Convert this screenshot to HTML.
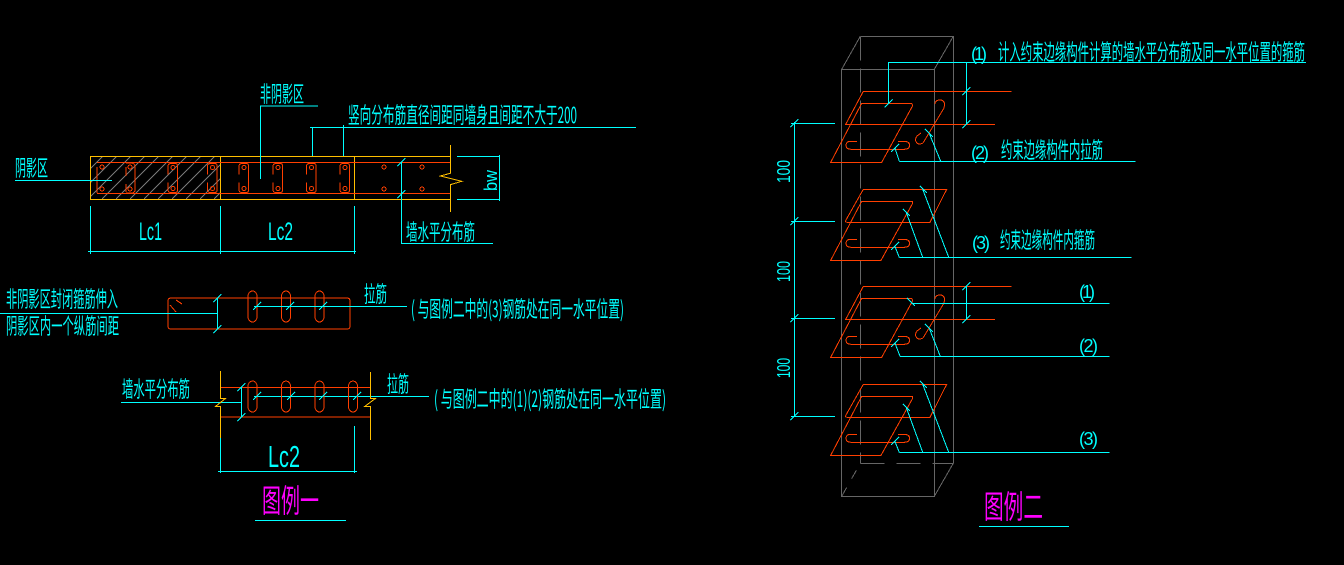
<!DOCTYPE html>
<html><head><meta charset="utf-8"><style>
html,body{margin:0;padding:0;background:#000;width:1344px;height:565px;overflow:hidden}
svg{display:block;shape-rendering:crispEdges}
text{font-family:"WenQuanYi Zen Hei","Noto Sans CJK SC",sans-serif;fill:#00ffff;font-size:22px}
.l{font-family:"Liberation Sans",sans-serif;font-weight:normal}
.c{stroke:#00ffff;fill:none;stroke-width:1}
.r{stroke:#ff3f00;fill:none;stroke-width:1}
.o{stroke:#ffbf00;fill:none;stroke-width:1}
.g{stroke:#666;fill:none;stroke-width:1}
.t{stroke:#00ffff;fill:none;stroke-width:1}
</style></head><body>
<svg width="1344" height="565" viewBox="0 0 1344 565" xmlns="http://www.w3.org/2000/svg">
<defs>
<path id="tick" class="t" d="M-4 4L4 -4"/>
<rect id="slotV" class="r" x="0" y="0" width="9" height="31" rx="4.500" ry="5"/>
<g id="stir"><path class="r" d="M0 12V4Q0 1 3 1M0 20V27Q0 30 3 30M3 1H7Q9.500 1 9.500 3V28Q9.500 30 7 30H3"/><circle class="r" cx="5" cy="5" r="2"/><circle class="r" cx="5" cy="26" r="2"/></g>
<g id="rA">
<path class="r" d="M1011.700 91.300H863.300L845.700 124.300H995"/>
<path class="r" d="M861.700 103.300H911Q912.500 103.300 912.500 106L881.700 162.300H830.700Z"/>
<path class="r" d="M857 141.300H851Q846 141.300 846 145.300Q846 149.300 851 149.300H904Q909.500 149.300 909.500 145.300Q909.500 141.300 904 141.300H898"/>
<path class="r" d="M923 143Q919 145 917 143Q914 140 917 136L921 133M923 143L944 108Q946 100 940 100Q935 100 935 104"/>
</g>
<g id="rB">
<path class="r" d="M863.300 189.300H946.700L930 222.300H847Q845 222.300 846 220Z"/>
<path class="r" d="M861.700 201.300H912.300V204L881 260.300H830.700Z"/>
<path class="r" d="M857 239.300H851Q846 239.300 846 243.300Q846 247.300 851 247.300H904Q909.500 247.300 909.500 243.300Q909.500 239.300 904 239.300H898"/>
</g>
</defs>
<rect width="1344" height="565" fill="#000"/>

<!-- hatch -->
<clipPath id="hc"><rect x="91" y="157" width="129" height="42"/></clipPath>
<g clip-path="url(#hc)">
<path stroke="#777" stroke-width="1" fill="none" d="M60 199L103 156M74 199L117 156M88 199L131 156M102 199L145 156M116 199L159 156M130 199L173 156M144 199L187 156M158 199L201 156M172 199L215 156M186 199L229 156M200 199L243 156M214 199L257 156"/>
</g>

<!-- wall elevation -->
<path class="o" d="M450.300 156.300H90.300V199.300H450.300M220.300 156.300V199.300M354.300 156.300V199.300"/>
<path class="r" d="M97 162.300H450M97 193.300H450"/>
<path class="o" d="M450.300 145V173.300L440.300 176L461.700 181.300L450.300 184.700V212"/>
<path class="r" d="M97 193V167"/>
<path class="r" d="M126 163H131Q135 163 135 167V190Q135 193 131 193H126M126 167V176M126 184V192"/>
<circle class="r" cx="102" cy="167" r="2"/><circle class="r" cx="102" cy="189" r="2"/>
<circle class="r" cx="130" cy="167" r="2"/><circle class="r" cx="130" cy="189" r="2"/>
<use href="#stir" x="168" y="162.500"/>
<use href="#stir" x="207.500" y="162.500"/>
<use href="#stir" x="239" y="162.500"/>
<use href="#stir" x="273" y="162.500"/>
<use href="#stir" x="306.500" y="162.500"/>
<use href="#stir" x="340" y="162.500"/>
<circle class="r" cx="384" cy="167" r="2"/><circle class="r" cx="384" cy="189" r="2"/><circle class="r" cx="422" cy="167" r="2"/><circle class="r" cx="422" cy="189" r="2"/>

<!-- wall leaders -->
<path class="c" d="M260.500 179V106H318"/>
<path class="c" d="M15 180.300H112"/>
<path class="c" d="M636 127.300H310M312.500 127V156M343.300 125V156"/>
<path class="c" d="M401.300 162V243.300H493"/>
<path class="c" d="M457 156.300H500M457 199.300H500M499.300 155V201"/>
<path class="c" d="M90.300 206V254M220.300 206V254M354.300 206V254M88 251.700H356"/>
<use href="#tick" x="401.300" y="162"/><use href="#tick" x="401.300" y="194"/>
<text x="260" y="102" textLength="44" lengthAdjust="spacingAndGlyphs">非阴影区</text>
<text x="15" y="176" textLength="33" lengthAdjust="spacingAndGlyphs">阴影区</text>
<text x="348" y="123" textLength="229" lengthAdjust="spacingAndGlyphs">竖向分布筋直径间距同墙身且间距不大于200</text>
<text x="406" y="240" textLength="69" lengthAdjust="spacingAndGlyphs">墙水平分布筋</text>
<text class="l" x="139" y="240" textLength="23" lengthAdjust="spacingAndGlyphs" style="font-size:25px">Lc1</text>
<text class="l" x="268" y="240" textLength="25" lengthAdjust="spacingAndGlyphs" style="font-size:25px">Lc2</text>
<text class="l" transform="translate(497 191) rotate(-90)" textLength="21" lengthAdjust="spacingAndGlyphs" style="font-size:18px">bw</text>

<!-- section 2 -->
<path class="r" d="M171 298H347Q350 298 350 301V326Q350 329 347 329H171Q168 329 168 326V301Q168 298 171 298Z"/>
<path class="r" d="M170 305L176 312M176 300L182 304"/>
<use href="#slotV" x="248" y="291"/><use href="#slotV" x="281.500" y="291"/><use href="#slotV" x="315" y="291"/>
<path class="c" d="M0 313.300H217.300V298M217.300 313V329"/>
<path class="c" d="M254 306.300H407"/>
<use href="#tick" x="217.300" y="298"/><use href="#tick" x="217.300" y="329"/>
<use href="#tick" x="257" y="306"/><use href="#tick" x="290" y="306"/><use href="#tick" x="323" y="306"/>
<text x="6" y="307" textLength="112" lengthAdjust="spacingAndGlyphs">非阴影区封闭箍筋伸入</text>
<text x="6" y="334" textLength="113" lengthAdjust="spacingAndGlyphs">阴影区内一个纵筋间距</text>
<text x="364" y="302" textLength="23" lengthAdjust="spacingAndGlyphs">拉筋</text>
<text x="411" y="317" textLength="213" lengthAdjust="spacingAndGlyphs">( 与图例二中的(3)钢筋处在同一水平位置)</text>

<!-- section 3 -->
<path class="r" d="M220 387.300H370M220 417H370"/>
<path class="c" d="M121 402.300H241.300V387M241.300 402V417"/>
<path class="c" d="M254 396.300H429"/>
<path class="c" d="M220.300 438V473M354.500 426V473M218 471.300H357"/>
<path class="o" d="M220.300 371V398.300H225.700L215.700 406.300H220.300V438"/>
<path class="o" d="M370.300 372V398.300H375.700L365 406.300H370.300V440"/>
<use href="#slotV" x="248" y="381"/><use href="#slotV" x="281.500" y="381"/><use href="#slotV" x="315" y="381"/><use href="#slotV" x="348.500" y="381"/>
<use href="#tick" x="241.300" y="387"/><use href="#tick" x="241.300" y="417"/>
<use href="#tick" x="257" y="396"/><use href="#tick" x="291" y="396"/><use href="#tick" x="323" y="396"/><use href="#tick" x="357" y="396"/>
<text x="122" y="397" textLength="68" lengthAdjust="spacingAndGlyphs">墙水平分布筋</text>
<text x="387" y="392" textLength="22" lengthAdjust="spacingAndGlyphs">拉筋</text>
<text x="434" y="407" textLength="232" lengthAdjust="spacingAndGlyphs">( 与图例二中的(1)(2)钢筋处在同一水平位置)</text>
<text class="l" x="268" y="467" textLength="32" lengthAdjust="spacingAndGlyphs" style="font-size:31px">Lc2</text>
<text x="262" y="512" textLength="57" lengthAdjust="spacingAndGlyphs" style="fill:#ff00ff;font-size:32px">图例一</text>
<path class="c" d="M255 520.300H346"/>

<!-- 3D box -->
<path class="g" d="M841.700 69.300H934.300V496.300H841.700ZM860.300 36.300H953.300V463.300"/>
<path class="g" stroke-dasharray="24 8" d="M860.300 36.300V463.300"/>
<path class="g" stroke-dasharray="24 12" d="M860.300 463.300H953.300"/>
<path class="g" d="M841.700 69.300L860.300 36.300M934.300 69.300L953.300 36.300M934.300 496.300L953.300 463.300"/>
<path class="g" stroke-dasharray="10 10" d="M841.700 496.300L860.300 463.300"/>

<!-- rebar -->
<use href="#rA"/><use href="#rB"/>
<use href="#rA" y="195"/><use href="#rB" y="195"/>

<!-- 3D leaders -->
<path class="c" d="M888.700 103.300V62.300H1306M966.300 62.300V124.300"/>
<path class="c" d="M899.300 161.300H1135.700"/>
<path class="c" d="M899.300 257.300H1131.700"/>
<path class="c" d="M911.700 303.300H1109.700M966.300 286V319.300"/>
<path class="c" d="M900 356.300H1109.700"/>
<path class="c" d="M899.300 452.300H1109.700"/>
<path class="c" d="M794.300 122V417M791 123.300H835M791 221.300H835M791 318.300H835M791 416.300H835"/>
<path class="c" d="M899.300 161.300L895 148M940.700 161.300L929 132.700"/>
<path class="c" d="M899.300 257.300L895 246.700M922.700 257.300L906 211.700M948.700 257.300L922.700 189.300"/>
<path class="c" d="M900 356.300L895 343M940.300 356.300L929 327.700"/>
<path class="c" d="M899.300 452.300L895 441.700M922.700 452.300L906 406.700M948.700 452.300L922.700 384.300"/>
<use href="#tick" x="888.700" y="103.300"/><use href="#tick" x="966.300" y="91.300"/><use href="#tick" x="966.300" y="124.300"/>
<use href="#tick" x="966.300" y="286.300"/><use href="#tick" x="966.300" y="319.300"/>
<path class="t" d="M907 298L915 306"/>
<path class="t" d="M925 129L933 137M891 152L899 144M925 324L933 332M891 347L899 339M903 209L910 216M920 186L927 193M891 250L899 242M903 404L910 411M920 381L927 388M891 445L899 437"/>
<use href="#tick" x="794.300" y="123.300"/><use href="#tick" x="794.300" y="221.300"/><use href="#tick" x="794.300" y="318.300"/><use href="#tick" x="794.300" y="416.300"/>

<!-- 3D labels -->
<text class="l" x="971" y="60" textLength="16" lengthAdjust="spacing" style="font-size:18px">(1)</text>
<text x="998" y="60" textLength="307" lengthAdjust="spacingAndGlyphs">计入约束边缘构件计算的墙水平分布筋及同一水平位置的箍筋</text>
<text class="l" x="971" y="159" textLength="18" lengthAdjust="spacing" style="font-size:18px">(2)</text>
<text x="1001" y="158" textLength="102" lengthAdjust="spacingAndGlyphs">约束边缘构件内拉筋</text>
<text class="l" x="972" y="249" textLength="18" lengthAdjust="spacing" style="font-size:18px">(3)</text>
<text x="1000" y="248" textLength="95" lengthAdjust="spacingAndGlyphs">约束边缘构件内箍筋</text>
<text class="l" x="1079" y="298" textLength="16" lengthAdjust="spacing" style="font-size:18px">(1)</text>
<text class="l" x="1079" y="352" textLength="19" lengthAdjust="spacing" style="font-size:18px">(2)</text>
<text class="l" x="1079" y="445" textLength="19" lengthAdjust="spacing" style="font-size:18px">(3)</text>
<text class="l" transform="translate(790 183) rotate(-90)" textLength="23" lengthAdjust="spacingAndGlyphs" style="font-size:18px">100</text>
<text class="l" transform="translate(790 282) rotate(-90)" textLength="21" lengthAdjust="spacingAndGlyphs" style="font-size:18px">100</text>
<text class="l" transform="translate(790 378) rotate(-90)" textLength="20" lengthAdjust="spacingAndGlyphs" style="font-size:18px">100</text>
<text x="984" y="518" textLength="59" lengthAdjust="spacingAndGlyphs" style="fill:#ff00ff;font-size:32px">图例二</text>
<path class="c" d="M979 526.300H1069"/>
</svg>
</body></html>
